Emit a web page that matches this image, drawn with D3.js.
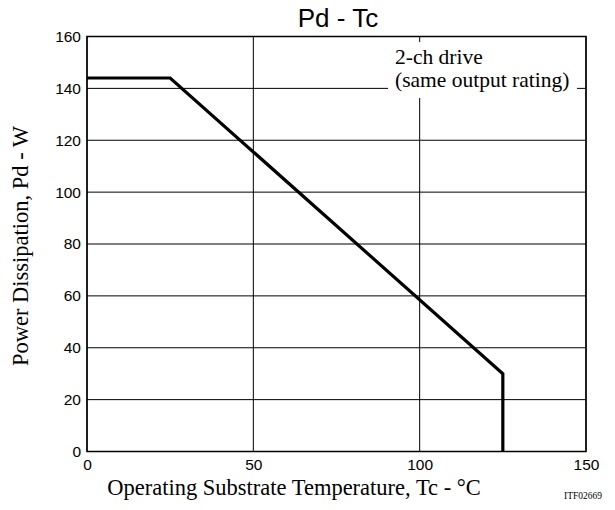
<!DOCTYPE html>
<html>
<head>
<meta charset="utf-8">
<script src="https://cdn.jsdelivr.net/npm/d3@7"></script>
<style>
  body { margin: 0; background: #fff; }
  svg text { fill: #000; }
</style>
</head>
<body>
<script>
// data (Tc in °C, Pd in W)
const tcValues = [0, 25, 125, 125];
const pdValues = [144, 144, 30, 0];
const xTicks = [0, 50, 100, 150];
const yTicks = [0, 20, 40, 60, 80, 100, 120, 140, 160];
const noteLines = ['2-ch drive', '(same output rating)'];

let margin = {top: 36.5, right: 29, bottom: 58.5, left: 87};
let width = 615, height = 510;
let w = width - margin.left - margin.right,
    h = height - margin.top - margin.bottom;

let serif = '"Liberation Serif", "Times New Roman", serif',
    sans = '"Liberation Sans", Arial, sans-serif';

let svg = d3.select('body').append('svg')
  .attr('width', width).attr('height', height);

let g = svg.append('g').attr('transform', 'translate(' + margin.left + ',' + margin.top + ')');

let x = d3.scaleLinear().domain([0, 150]).range([0, w]);
let y = d3.scaleLinear().domain([0, 160]).range([h, 0]);

// grid
g.append('g').selectAll('line').data(xTicks).enter().append('line')
  .attr('x1', d => x(d)).attr('x2', d => x(d)).attr('y1', 0).attr('y2', h)
  .attr('stroke', '#000').attr('stroke-width', 1);
g.append('g').selectAll('line').data(yTicks).enter().append('line')
  .attr('x1', 0).attr('x2', w).attr('y1', d => y(d)).attr('y2', d => y(d))
  .attr('stroke', '#000').attr('stroke-width', 1);

// note box hides the grid behind the text
let note = svg.append('g');
note.append('rect').attr('x', 388).attr('y', 42).attr('width', 189).attr('height', 56).attr('fill', '#fff');
note.selectAll('text').data(noteLines).enter().append('text')
  .attr('x', 395).attr('y', (d, i) => 64 + i * 23)
  .attr('font-family', serif)
  .attr('font-size', 21.5)
  .text(d => d);

// frame
g.append('rect').attr('width', w).attr('height', h)
  .attr('fill', 'none').attr('stroke', '#000').attr('stroke-width', 1.5);

// tick labels
g.append('g').attr('transform', 'translate(0,' + h + ')')
  .call(d3.axisBottom(x).tickValues(xTicks).tickSize(0).tickPadding(7.5))
  .call(a => a.select('.domain').remove())
  .selectAll('text').attr('font-family', sans).attr('font-size', 15.5).attr('fill', '#000');
g.append('g')
  .call(d3.axisLeft(y).tickValues(yTicks).tickSize(0).tickPadding(6))
  .call(a => a.select('.domain').remove())
  .selectAll('text').attr('font-family', sans).attr('font-size', 15.5).attr('fill', '#000');

// curve
let pts = tcValues.map((t, i) => [t, pdValues[i]]);
g.append('path').datum(pts)
  .attr('d', d3.line().x(d => x(d[0])).y(d => y(d[1])))
  .attr('fill', 'none').attr('stroke', '#000').attr('stroke-width', 3.2)
  .attr('stroke-linejoin', 'miter');

// titles
svg.append('text').attr('x', 338).attr('y', 27)
  .attr('text-anchor', 'middle')
  .attr('font-family', sans).attr('font-size', 26)
  .text('Pd - Tc');

svg.append('text').attr('x', 294).attr('y', 495)
  .attr('text-anchor', 'middle')
  .attr('font-family', serif).attr('font-size', 22.5)
  .text('Operating Substrate Temperature, Tc - °C');

svg.append('text')
  .attr('transform', 'translate(28,246) rotate(-90)')
  .attr('text-anchor', 'middle')
  .attr('font-family', serif).attr('font-size', 22.5)
  .text('Power Dissipation, Pd - W');

svg.append('text').attr('x', 564).attr('y', 499)
  .attr('font-family', serif).attr('font-size', 9.5)
  .text('ITF02669');
</script>
</body>
</html>
